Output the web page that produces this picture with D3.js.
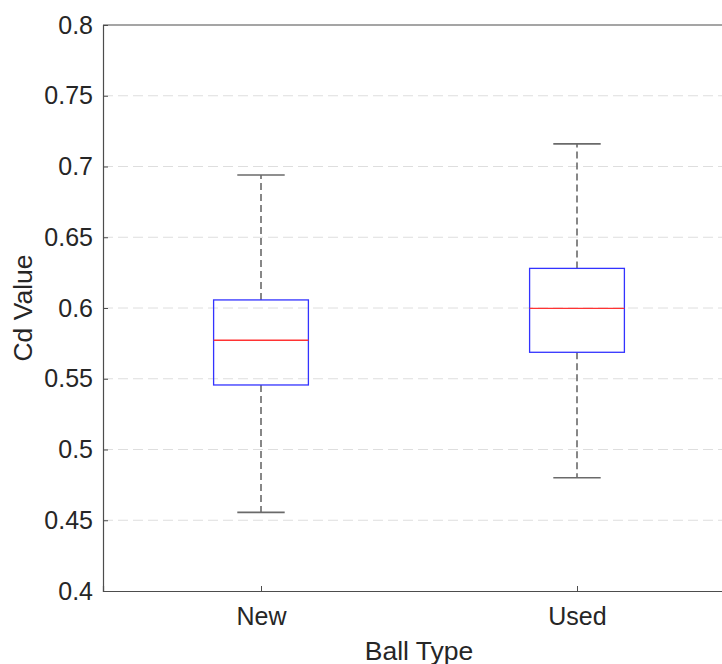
<!DOCTYPE html>
<html>
<head>
<meta charset="utf-8">
<script src="https://cdn.jsdelivr.net/npm/d3@7"></script>
<style>
  body { margin: 0; background: #fff; }
  text { font-family: "Liberation Sans", Arial, Helvetica, sans-serif; fill: #262626; }
</style>
</head>
<body>
<div id="root"></div>
<script>
// box plot summary
var categories = ["New", "Used"];
var whiskerLow = [0.4556, 0.480];
var q1 = [0.5456, 0.5687];
var median = [0.5772, 0.5998];
var q3 = [0.6057, 0.628];
var whiskerHigh = [0.694, 0.716];
var yTicks = [0.4, 0.45, 0.5, 0.55, 0.6, 0.65, 0.7, 0.75, 0.8];

var width = 722, height = 664;
var plotLeft = 103, plotTop = 25, plotBottom = 591;

var svg = d3.select("#root").append("svg")
    .attr("width", width)
    .attr("height", height);

// matlab style: boxes at 1..n, limits 0.5..n+0.5 (right edge falls outside the window)
var x = d3.scaleLinear().domain([0.5, 2.5]).range([plotLeft, plotLeft + 632]);
var y = d3.scaleLinear().domain([0.4, 0.8]).range([plotBottom, plotTop]);

// grid
svg.append("g").selectAll("line")
    .data(yTicks.filter(function(t){ return t > 0.4 && t < 0.8; }))
    .enter().append("line")
    .attr("x1", plotLeft).attr("x2", width)
    .attr("y1", function(d){ return y(d); })
    .attr("y2", function(d){ return y(d); })
    .attr("stroke", "#dedede")
    .attr("stroke-width", 1)
    .attr("stroke-dasharray", "10,5");

// axes
var yAxis = d3.axisLeft(y).tickValues(yTicks).tickSize(-5).tickPadding(10)
    .tickFormat(function(d){ return String(+d.toFixed(2)); });
var gy = svg.append("g").attr("transform", "translate(" + plotLeft + ",0)").call(yAxis);
gy.select(".domain").attr("stroke", "#4d4d4d").attr("stroke-width", 1.2);
gy.selectAll(".tick line").attr("stroke", "#4d4d4d");
gy.selectAll(".tick text").style("font-size", "25px").attr("fill", "#262626");

var xAxis = d3.axisBottom(x).tickValues([1, 2]).tickSize(-5).tickPadding(16)
    .tickFormat(function(d){ return categories[d - 1]; });
var gx = svg.append("g").attr("transform", "translate(0," + plotBottom + ")").call(xAxis);
gx.select(".domain").attr("stroke", "#4d4d4d").attr("stroke-width", 1.2);
gx.selectAll(".tick line").attr("stroke", "#4d4d4d");
gx.selectAll(".tick text").style("font-size", "25px").attr("fill", "#262626");

// top border
svg.append("line")
    .attr("x1", plotLeft).attr("x2", width)
    .attr("y1", plotTop).attr("y2", plotTop)
    .attr("stroke", "#4d4d4d").attr("stroke-width", 1.2);

// labels
svg.append("text")
    .attr("x", x(1.5)).attr("y", 660)
    .attr("text-anchor", "middle")
    .style("font-size", "26.5px")
    .text("Ball Type");

svg.append("text")
    .attr("transform", "translate(32," + y(0.6) + ") rotate(-90)")
    .attr("text-anchor", "middle")
    .style("font-size", "26.5px")
    .text("Cd Value");

// boxes
var boxW = x(1.3) - x(1), capW = x(1.15) - x(1);
var g = svg.append("g").selectAll("g")
    .data(categories)
    .enter().append("g");

g.append("line")
    .attr("x1", function(d, i){ return x(i + 1); })
    .attr("x2", function(d, i){ return x(i + 1); })
    .attr("y1", function(d, i){ return y(q3[i]); })
    .attr("y2", function(d, i){ return y(whiskerHigh[i]); })
    .attr("stroke", "#6a6a6a").attr("stroke-width", 1.6).attr("stroke-dasharray", "7,4");

g.append("line")
    .attr("x1", function(d, i){ return x(i + 1); })
    .attr("x2", function(d, i){ return x(i + 1); })
    .attr("y1", function(d, i){ return y(q1[i]); })
    .attr("y2", function(d, i){ return y(whiskerLow[i]); })
    .attr("stroke", "#6a6a6a").attr("stroke-width", 1.6).attr("stroke-dasharray", "7,4");

[whiskerHigh, whiskerLow].forEach(function(arr){
    g.append("line")
        .attr("x1", function(d, i){ return x(i + 1) - capW / 2; })
        .attr("x2", function(d, i){ return x(i + 1) + capW / 2; })
        .attr("y1", function(d, i){ return y(arr[i]); })
        .attr("y2", function(d, i){ return y(arr[i]); })
        .attr("stroke", "#6a6a6a").attr("stroke-width", 1.6);
});

g.append("rect")
    .attr("x", function(d, i){ return x(i + 1) - boxW / 2; })
    .attr("width", boxW)
    .attr("y", function(d, i){ return y(q3[i]); })
    .attr("height", function(d, i){ return y(q1[i]) - y(q3[i]); })
    .attr("fill", "none")
    .attr("stroke", "#3333ff").attr("stroke-width", 1.3);

g.append("line")
    .attr("x1", function(d, i){ return x(i + 1) - boxW / 2; })
    .attr("x2", function(d, i){ return x(i + 1) + boxW / 2; })
    .attr("y1", function(d, i){ return y(median[i]); })
    .attr("y2", function(d, i){ return y(median[i]); })
    .attr("stroke", "#ff3333").attr("stroke-width", 1.3);
</script>
</body>
</html>
